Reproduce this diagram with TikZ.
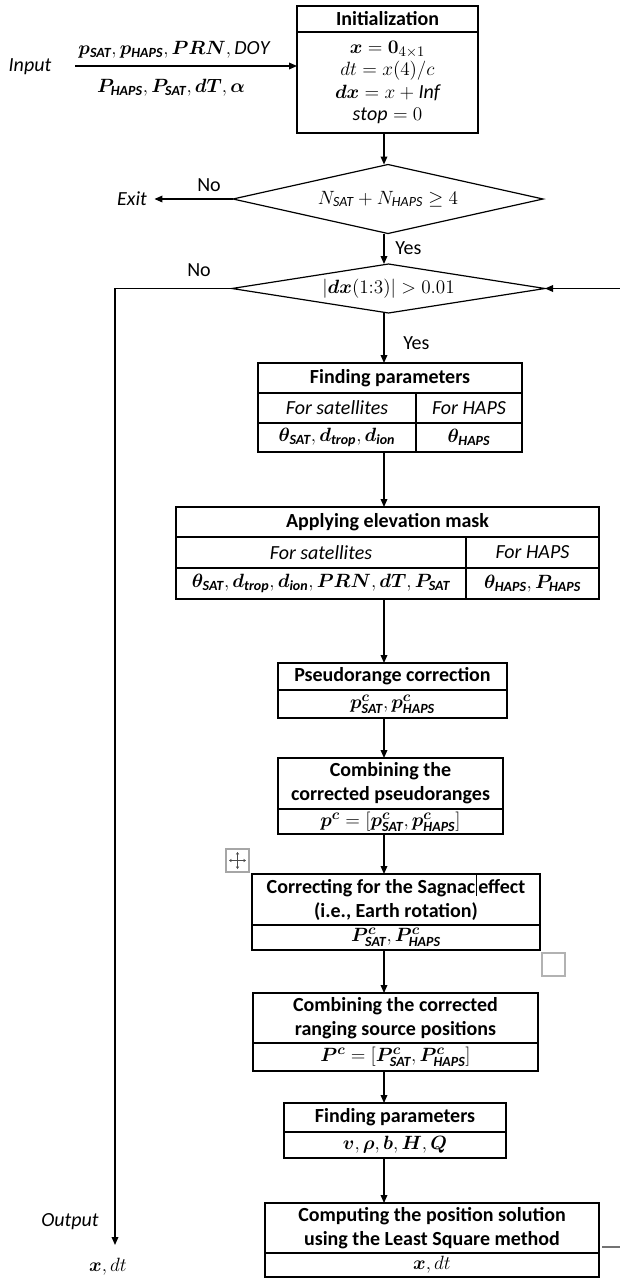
\documentclass[tikz,border=0pt]{standalone}
\usepackage{amsmath}
\usepackage{bm}
\usepackage{fontspec}
\setmainfont{Carlito}
\usetikzlibrary{shapes.geometric,arrows.meta}
\newcommand\bs[1]{\text{\bfseries\itshape #1}}
\newcommand\mkcell[7][]{\node[cell,#1,minimum width={(#4-#2)*0.75pt},minimum height={(#5-#3)*0.75pt}] (#6) at ({(#2+#4)/2},{(#3+#5)/2}) {#7};}
\begin{document}
\begin{tikzpicture}[x=0.75pt,y=-0.75pt,
  cell/.style={draw,line width=0.9pt,inner sep=0pt,outer sep=0pt,align=center,font=\fontsize{15}{18}\selectfont},
  hdr/.style={font=\fontsize{15}{18}\selectfont\bfseries},
  itl/.style={font=\fontsize{15}{18}\selectfont\itshape},
  dia/.style={diamond,draw,line width=0.9pt,inner sep=0pt,outer sep=0pt,font=\fontsize{15}{18}\selectfont},
  lbl/.style={inner sep=0pt,font=\fontsize{15}{18}\selectfont},
  arr/.style={line width=0.9pt,-{Triangle[length=6pt,width=5pt]}},
  stub/.style={line width=0.9pt,black!55}]
\useasboundingbox (0,0) rectangle (620,1282);
\coordinate (ax) at (384,0);

% Initialization
\mkcell[hdr]{297}{6}{478}{32}{initA}{Initialization}
\mkcell[font=\fontsize{15}{16.8}\selectfont]{297}{32}{478}{133}{initB}{$\bm{x}=\bm{0}_{4\times 1}$\\ $dt=x(4)/c$\\ $\bm{dx}=x+\mathit{Inf}$\\ $\mathit{stop}=0$}

% Input
\node[lbl,itl] (input) at (30,67) {Input};
\coordinate (instart) at (75,66);
\draw[arr] (instart) -- (instart -| initB.west);
\node[lbl] (intop) at (174,50) {$\bm{p}_{\bs{SAT}},\bm{p}_{\bs{HAPS}},\bm{PRN},\mathit{DOY}$};
\node[lbl] (inbot) at (171,88) {$\bm{P}_{\bs{HAPS}},\bm{P}_{\bs{SAT}},\bm{dT},\bm{\alpha}$};

% Diamonds
\node[dia,aspect=4.5,minimum width={310*0.75pt},minimum height={69*0.75pt}] (d1) at (388,199) {$N_{\text{\itshape SAT}}+N_{\text{\itshape HAPS}}\geq 4$};
\node[dia,aspect=6.4,minimum width={313*0.75pt},minimum height={49*0.75pt}] (d2) at (388.5,288.5) {$|\bm{dx}(1{:}3)|>0.01$};

\draw[arr] (initB.south -| ax) -- (d1.north -| ax);
\draw[arr] (d1.south -| ax) -- (d2.north -| ax);
\node[lbl,itl] (exit) at (132,199) {Exit};
\draw[arr] (d1.west) -- ([xshift=5.5pt]exit.east);
\node[lbl] (no1) at (209,185) {No};
\node[lbl,anchor=west] (yes1) at (395,248) {Yes};
\node[lbl] (no2) at (199,270) {No};
\node[lbl,anchor=west] (yes2) at (403,343) {Yes};

% Finding parameters
\mkcell[hdr]{258}{363}{522}{393}{fpA}{Finding parameters}
\mkcell[itl]{258}{393}{416}{423}{fpB1}{For satellites}
\mkcell[itl]{416}{393}{522}{423}{fpB2}{For HAPS}
\mkcell{258}{423}{416}{452}{fpC1}{$\bm{\theta}_{\bs{SAT}},\bm{d}_{\bs{trop}},\bm{d}_{\bs{ion}}$}
\mkcell{416}{423}{522}{452}{fpC2}{$\bm{\theta}_{\bs{HAPS}}$}
\draw[arr] (d2.south -| ax) -- (fpA.north -| ax);

% Applying elevation mask
\mkcell[hdr]{176}{507}{599}{537}{amA}{Applying elevation mask}
\mkcell[itl]{176}{537}{466}{568}{amB1}{For satellites}
\mkcell[itl]{466}{537}{599}{568}{amB2}{For HAPS}
\mkcell{176}{568}{466}{599}{amC1}{$\bm{\theta}_{\bs{SAT}},\bm{d}_{\bs{trop}},\bm{d}_{\bs{ion}},\bm{PRN},\bm{dT},\bm{P}_{\bs{SAT}}$}
\mkcell{466}{568}{599}{599}{amC2}{$\bm{\theta}_{\bs{HAPS}},\bm{P}_{\bs{HAPS}}$}
\draw[arr] (fpC1.south -| ax) -- (amA.north -| ax);

% Pseudorange correction
\mkcell[hdr]{278}{663}{507}{690}{prA}{Pseudorange correction}
\mkcell{278}{690}{507}{718}{prB}{$\bm{p}^{\bm{c}}_{\bs{SAT}},\bm{p}^{\bm{c}}_{\bs{HAPS}}$}
\draw[arr] (amC1.south -| ax) -- (prA.north -| ax);

% Combining pseudoranges
\mkcell[hdr]{278}{758}{503}{809}{cbA}{Combining the\\corrected pseudoranges}
\mkcell{278}{809}{503}{834}{cbB}{$\bm{p}^{\bm{c}}=[\bm{p}^{\bm{c}}_{\bs{SAT}},\bm{p}^{\bm{c}}_{\bs{HAPS}}]$}
\draw[arr] (prB.south -| ax) -- (cbA.north -| ax);

% Sagnac
\mkcell[hdr]{252}{874}{540}{925}{sgA}{Correcting for the Sagnac\kern0.6pt\smash{\rule[-0.3ex]{0.6pt}{2.2ex}}\kern1pt effect\\(i.e., Earth rotation)}
\mkcell{252}{925}{540}{950}{sgB}{$\bm{P}^{\bm{c}}_{\bs{SAT}},\bm{P}^{\bm{c}}_{\bs{HAPS}}$}
\draw[arr] (cbB.south -| ax) -- (sgA.north -| ax);

% Combining positions
\mkcell[hdr]{253}{993}{538}{1043}{crA}{Combining the corrected\\ranging source positions}
\mkcell{253}{1043}{538}{1071}{crB}{$\bm{P}^{\bm{c}}=[\bm{P}^{\bm{c}}_{\bs{SAT}},\bm{P}^{\bm{c}}_{\bs{HAPS}}]$}
\draw[arr] (sgB.south -| ax) -- (crA.north -| ax);

% Finding parameters 2
\mkcell[hdr]{284}{1103}{506}{1132}{f2A}{Finding parameters}
\mkcell{284}{1132}{506}{1158}{f2B}{$\bm{v},\bm{\rho},\bm{b},\bm{H},\bm{Q}$}
\draw[arr] (crB.south -| ax) -- (f2A.north -| ax);

% Least squares
\mkcell[hdr]{265}{1203}{599}{1253}{lsA}{Computing the position solution\\using the Least Square method}
\mkcell{265}{1253}{599}{1277}{lsB}{$\bm{x},dt$}
\draw[arr] (f2B.south -| ax) -- (lsA.north -| ax);

% loops
\coordinate (lc) at (115,288.5);
\coordinate (outtip) at (115,1245);
\draw[arr] (d2.west) -- (lc) -- (outtip);
\node[lbl,itl] (output) at (70,1222) {Output};
\node[lbl] (xdt) at (108,1267) {$\bm{x},dt$};
\coordinate (rin) at (620,288.5);
\draw[arr] (rin) -- (d2.east);
\coordinate (rout) at (620,1247);
\draw[stub] (lsA.east |- rout) ++(3,0) -- (rout);

% editor handles
\draw[black!35,line width=1pt] (226,849) rectangle (249,872);
\draw[black!70,line width=0.6pt,{Stealth[length=2pt,width=2.5pt]}-{Stealth[length=2pt,width=2.5pt]}] (237.5,852) -- (237.5,869);
\draw[black!70,line width=0.6pt,{Stealth[length=2pt,width=2.5pt]}-{Stealth[length=2pt,width=2.5pt]}] (229,860.5) -- (246,860.5);
\draw[black!30,line width=1pt] (542,953) rectangle (565,976);
\end{tikzpicture}
\end{document}
